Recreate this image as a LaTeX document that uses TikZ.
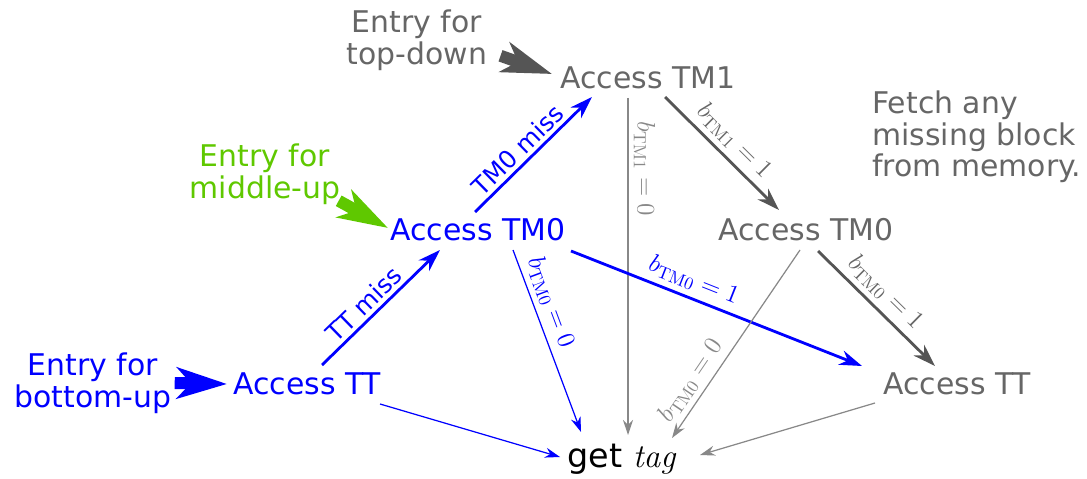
\documentclass[tikz,border=0pt]{standalone}
\usepackage{fontspec}
\newfontfamily\dejavu{DejaVu Sans}
\usetikzlibrary{arrows.meta,calc}
\definecolor{cBlue}{HTML}{0000FF}
\definecolor{cGreen}{HTML}{5FC800}
\definecolor{cGrey}{HTML}{666666}
\definecolor{cDark}{HTML}{555555}
\definecolor{cLight}{HTML}{888888}

\begin{document}
\begin{tikzpicture}[
  x=0.02cm, y=-0.02cm,
  font=\dejavu\fontsize{17}{18.2}\selectfont,
  acc/.style={anchor=base west, inner sep=0pt},
  entry/.style={align=center, inner sep=0pt},
  misslbl/.style={font=\dejavu\fontsize{14}{16}\selectfont, sloped, above, inner sep=2pt},
  lbl/.style={font=\fontsize{14.4}{16}\selectfont, sloped, above, inner sep=3pt},
  thickarr/.style={-{Stealth[length=0.45cm, width=0.3cm]}, line width=1.6pt},
  thinarr/.style={-{Stealth[length=0.3cm, width=0.2cm]}, line width=0.7pt},
  entryarr/.style={-{Stealth[length=1cm, width=0.62cm, inset=0.28cm]}, line width=0.24cm},
]
\useasboundingbox (0,0) rectangle (1087,479);

% ---------- access nodes ----------
\node[acc, text=cGrey] (tmOne) at (560,89) {Access TM1};
\node[acc, text=cBlue] (tmZeroB) at (390,241) {Access TM0};
\node[acc, text=cGrey] (tmZeroG) at (718,241) {Access TM0};
\node[acc, text=cBlue] (ttB) at (233,394) {Access TT};
\node[acc, text=cGrey] (ttG) at (883,394) {Access TT};
\node[acc, font=\dejavu\fontsize{19}{20}\selectfont] (tag) at (567,467)
  {get {\rmfamily\itshape tag}};

% ---------- entries ----------
\node[entry, text=cGrey] (entryTop) at (417,40) {Entry for\\top-down};
\node[entry, text=cGreen] (entryMid) at (265,174) {Entry for\\middle-up};
\node[entry, text=cBlue] (entryBot) at (93,383) {Entry for\\bottom-up};
\node[anchor=north west, align=left, inner sep=0pt, text=cGrey] (fetch) at (872,90)
  {Fetch any\\missing block\\from memory.};

\draw[entryarr, cDark] ($(entryTop.south east)+(13,-15)$) -- ($(tmOne.base west)+(-8,-15)$);
\draw[entryarr, cGreen] ($(entryMid.south east)+(-2,-4)$) -- ($(tmZeroB.base west)+(-2,-13)$);
\draw[entryarr, cBlue] ($(entryBot.east)+(3,0)$) -- ($(ttB.base west)+(-6,-10)$);

% ---------- misses ----------
\draw[thickarr, cBlue] ($(ttB.base west)+(89,-29)$) -- ($(tmZeroB.base west)+(50,9)$)
  node[misslbl, pos=0.44] {TT miss};
\draw[thickarr, cBlue] ($(tmZeroB.base west)+(85,-29)$) -- ($(tmOne.base west)+(32,8)$)
  node[misslbl, pos=0.45] {TM0 miss};

% ---------- block bits ----------
\draw[thickarr, cDark] ($(tmOne.base west)+(105,8)$) -- ($(tmZeroG.base west)+(61,-31)$)
  node[lbl, midway, text=cGrey] {$b_{\mathrm{TM1}} = 1$};
\draw[thinarr, cLight] ($(tmOne.base west)+(68,9)$) -- ($(tag.base west)+(61,-32)$)
  node[lbl, pos=0.21] {$b_{\mathrm{TM1}} = 0$};
\draw[thinarr, cBlue] ($(tmZeroB.base west)+(123,9)$) -- ($(tag.base west)+(14,-35)$)
  node[lbl, pos=0.32] {$b_{\mathrm{TM0}} = 0$};
\draw[thickarr, cBlue] ($(tmZeroB.base west)+(181,10)$) -- ($(ttG.base west)+(-21,-28)$)
  node[lbl, pos=0.4] {$b_{\mathrm{TM0}} = 1$};
\draw[thinarr, cLight] ($(tmZeroG.base west)+(82,9)$) -- ($(tag.base west)+(105,-29)$)
  node[lbl, pos=0.745] {$b_{\mathrm{TM0}} = 0$};
\draw[thickarr, cDark] ($(tmZeroG.base west)+(100,10)$) -- ($(ttG.base west)+(52,-28)$)
  node[lbl, pos=0.47, text=cGrey] {$b_{\mathrm{TM0}} = 1$};
\draw[thinarr, cLight] ($(ttG.base west)+(-8,9)$) -- ($(tag.base west)+(133,-12)$);
\draw[thinarr, cBlue] ($(ttB.base west)+(147,10)$) -- ($(tag.base west)+(-7,-10)$);

\end{tikzpicture}
\end{document}
